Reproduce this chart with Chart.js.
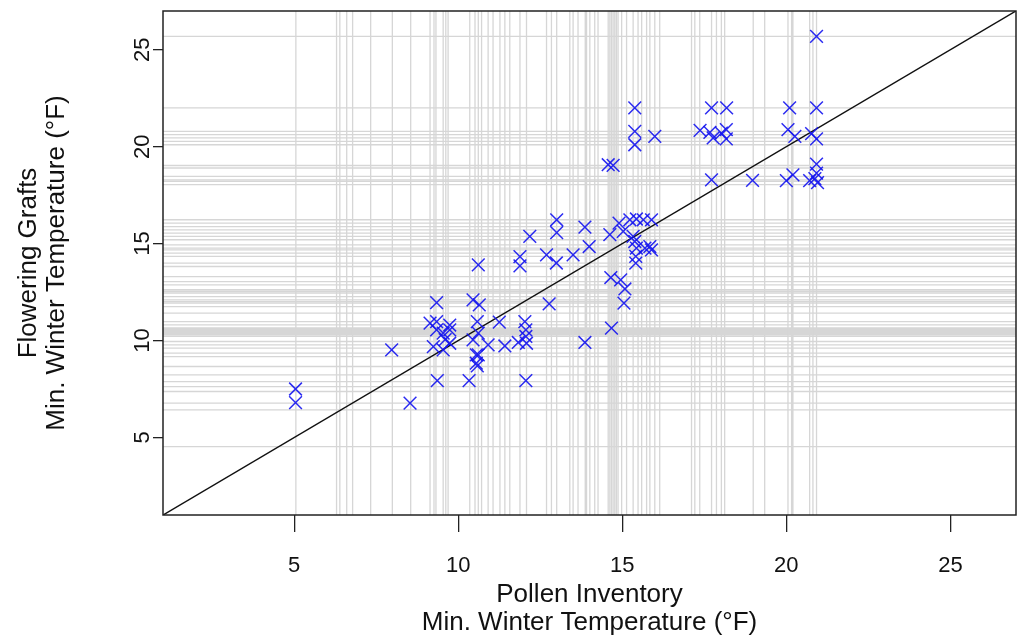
<!DOCTYPE html>
<html>
<head>
<meta charset="utf-8">
<script src="https://cdn.jsdelivr.net/npm/chart.js@4.4.0/dist/chart.umd.min.js"></script>
<style>
  html, body { margin: 0; padding: 0; background: #fff; }
  #wrap { width: 1019px; height: 637px; }
</style>
</head>
<body>
<div id="wrap"><canvas id="chart" width="1019" height="637"></canvas></div>
<script>
// pollen inventory (x) vs flowering grafts (y), min. winter temperature in F
var pollenTemp = [
  5.04, 5.04, 7.97, 8.53, 9.34, 9.14, 9.34, 9.34, 9.24, 9.36,
  9.74, 9.74, 9.54, 9.74, 9.54, 9.6, 10.45, 10.64, 12.77, 10.58,
  10.61, 10.45, 10.91, 11.25, 11.42, 11.83, 12.03, 12.06, 12.06, 12.08,
  10.61, 10.58, 10.33, 12.06, 13.86, 14.67, 10.61, 11.88, 11.88, 12.69,
  12.99, 13.5, 13.0, 13.0, 12.18, 13.86, 13.99, 14.62, 14.9, 15.23,
  15.43, 15.64, 15.89, 15.03, 15.33, 15.38, 15.43, 15.84, 15.89, 15.69,
  15.41, 15.41, 14.65, 14.95, 15.08, 15.05, 15.38, 15.38, 15.38, 15.99,
  14.57, 14.72, 20.92, 17.72, 18.18, 20.1, 20.92, 17.37, 17.67, 17.77,
  18.02, 18.17, 18.17, 20.05, 20.26, 20.77, 20.92, 20.92, 20.92, 17.72,
  18.97, 20.0, 20.2, 20.71, 20.87, 20.95, 10.55, 10.55
];
var graftTemp = [
  7.5, 6.8, 9.52, 6.77, 11.96, 10.9, 10.98, 10.55, 9.69, 7.93,
  10.8, 10.55, 10.38, 9.86, 9.52, 10.05, 12.1, 11.84, 11.89, 10.98,
  10.38, 10.03, 9.78, 10.95, 9.72, 9.9, 10.98, 10.55, 10.21, 9.86,
  9.26, 8.69, 7.93, 7.93, 9.9, 10.64, 13.9, 14.33, 13.85, 14.42,
  14.0, 14.42, 16.23, 15.57, 15.37, 15.85, 14.85, 15.46, 16.06, 16.23,
  16.27, 16.23, 16.23, 15.63, 15.37, 15.11, 14.77, 14.85, 14.68, 14.77,
  14.34, 13.99, 13.25, 13.13, 12.66, 11.93, 22.0, 20.79, 20.1, 20.53,
  19.07, 19.04, 25.69, 22.0, 22.0, 22.0, 22.0, 20.84, 20.74, 20.45,
  20.7, 20.88, 20.4, 20.88, 20.53, 20.67, 20.4, 19.1, 18.64, 18.29,
  18.26, 18.25, 18.55, 18.25, 18.35, 18.15, 9.26, 8.83
];

// grey reference lines (full inventory / graft temperature lists)
var xLines = [
  5.05, 6.29, 6.39, 6.6, 6.78, 7.33, 7.99, 8.55, 9.14, 9.26, 9.32, 9.54, 9.62, 9.69,
  10.35, 10.51, 10.61, 10.71, 10.91, 11.06, 11.27, 11.42, 11.57, 11.88, 12.08,
  12.69, 12.84, 13.0, 13.4, 13.5, 13.65, 13.87, 13.91, 14.01, 14.16, 14.26,
  14.57, 14.62, 14.67, 14.72, 14.77, 14.82, 14.87, 14.98, 15.13, 15.33, 15.48,
  15.59, 15.74, 15.84, 15.99, 16.14, 17.11, 17.21, 17.36, 17.72, 17.87, 18.02,
  18.12, 18.99, 19.34, 20.05, 20.16, 20.2, 20.71, 20.81, 20.92
];
var yLines = [
  25.69, 22.0, 20.79, 20.62, 20.45, 20.27, 20.1, 19.03, 18.9, 18.47, 18.29,
  18.21, 18.04, 16.23, 16.06, 15.88, 15.71, 15.54, 15.37, 15.2, 14.94, 14.77,
  14.68, 14.51, 14.34, 13.99, 13.82, 13.3, 13.04, 12.87, 12.62, 12.53, 12.45,
  12.27, 12.1, 12.01, 11.93, 11.75, 11.41, 10.98, 10.81, 10.65, 10.6, 10.55,
  10.5, 10.46, 10.42, 10.38, 10.35, 10.29, 10.21, 9.95, 9.78, 9.61, 9.35, 9.17,
  8.66, 8.23, 7.88, 7.62, 7.37, 6.77, 6.42, 4.53
];

var tickValues = [5, 10, 15, 20, 25];
var axisRange = [1, 27];

var tickFont = { family: '"Liberation Sans", Arial, sans-serif', size: 22 };
var titleFont = { family: '"Liberation Sans", Arial, sans-serif', size: 26, lineHeight: 1.08 };

var points = pollenTemp.map(function(x, i) { return { x: x, y: graftTemp[i] }; });

var vLineData = [];
xLines.forEach(function(v) {
  vLineData.push({ x: v, y: axisRange[0] }, { x: v, y: axisRange[1] }, { x: v, y: null });
});
var hLineData = [];
yLines.forEach(function(v) {
  hLineData.push({ x: axisRange[0], y: v }, { x: axisRange[1], y: v }, { x: null, y: v });
});

function noPad(axis) {
  axis.paddingLeft = 0; axis.paddingRight = 0;
  axis.paddingTop = 0; axis.paddingBottom = 0;
}

var boxPlugin = {
  id: 'box',
  afterDraw: function(chart) {
    var a = chart.chartArea, c = chart.ctx;
    c.save();
    c.strokeStyle = '#222';
    c.lineWidth = 1.5;
    c.strokeRect(a.left, a.top, a.right - a.left, a.bottom - a.top);
    c.restore();
  }
};

var ctx = document.getElementById('chart');
var chart = new Chart(ctx, {
  type: 'scatter',
  data: {
    datasets: [{
      data: points,
      order: 0,
      pointStyle: 'crossRot',
      pointRadius: 9,
      pointHoverRadius: 9,
      pointBorderWidth: 1.5,
      borderColor: 'rgba(20,20,240,0.9)',
      backgroundColor: 'rgba(20,20,240,0.9)'
    }, {
      data: [{ x: axisRange[0], y: axisRange[0] }, { x: axisRange[1], y: axisRange[1] }],
      order: 1,
      showLine: true,
      pointRadius: 0,
      borderColor: '#111',
      borderWidth: 1.5
    }, {
      data: vLineData,
      order: 2,
      showLine: true,
      spanGaps: false,
      pointRadius: 0,
      borderColor: '#d6d6d6',
      borderWidth: 1.3
    }, {
      data: hLineData,
      order: 3,
      showLine: true,
      spanGaps: false,
      pointRadius: 0,
      borderColor: '#d6d6d6',
      borderWidth: 1.3
    }]
  },
  options: {
    responsive: false,
    animation: false,
    events: [],
    layout: { autoPadding: false, padding: { top: 11, right: 3, left: 0, bottom: 0 } },
    plugins: {
      legend: { display: false },
      tooltip: { enabled: false }
    },
    scales: {
      x: {
        type: 'linear',
        min: axisRange[0],
        max: axisRange[1],
        afterBuildTicks: function(axis) { axis.ticks = tickValues.map(function(v) { return { value: v }; }); },
        afterFit: function(axis) { axis.height = 122; noPad(axis); },
        border: { display: false },
        grid: { drawOnChartArea: false, tickLength: 17, color: '#222', lineWidth: 1.3 },
        ticks: { color: '#111', font: tickFont, padding: 21 },
        title: {
          display: true,
          text: ['Pollen Inventory', 'Min. Winter Temperature (\u00B0F)'],
          color: '#111',
          font: titleFont,
          padding: { top: 0, bottom: 0 }
        }
      },
      y: {
        type: 'linear',
        min: axisRange[0],
        max: axisRange[1],
        afterBuildTicks: function(axis) { axis.ticks = tickValues.map(function(v) { return { value: v }; }); },
        afterFit: function(axis) { axis.width = 163; noPad(axis); },
        border: { display: false },
        grid: { drawOnChartArea: false, tickLength: 10, color: '#222', lineWidth: 1.3 },
        ticks: { color: '#111', font: tickFont, padding: -2, minRotation: 90, maxRotation: 90, crossAlign: 'center' },
        title: {
          display: true,
          text: ['Flowering Grafts', 'Min. Winter Temperature (\u00B0F)'],
          color: '#111',
          font: titleFont,
          padding: { top: 15, bottom: 0 }
        }
      }
    }
  },
  plugins: [boxPlugin]
});
</script>
</body>
</html>
